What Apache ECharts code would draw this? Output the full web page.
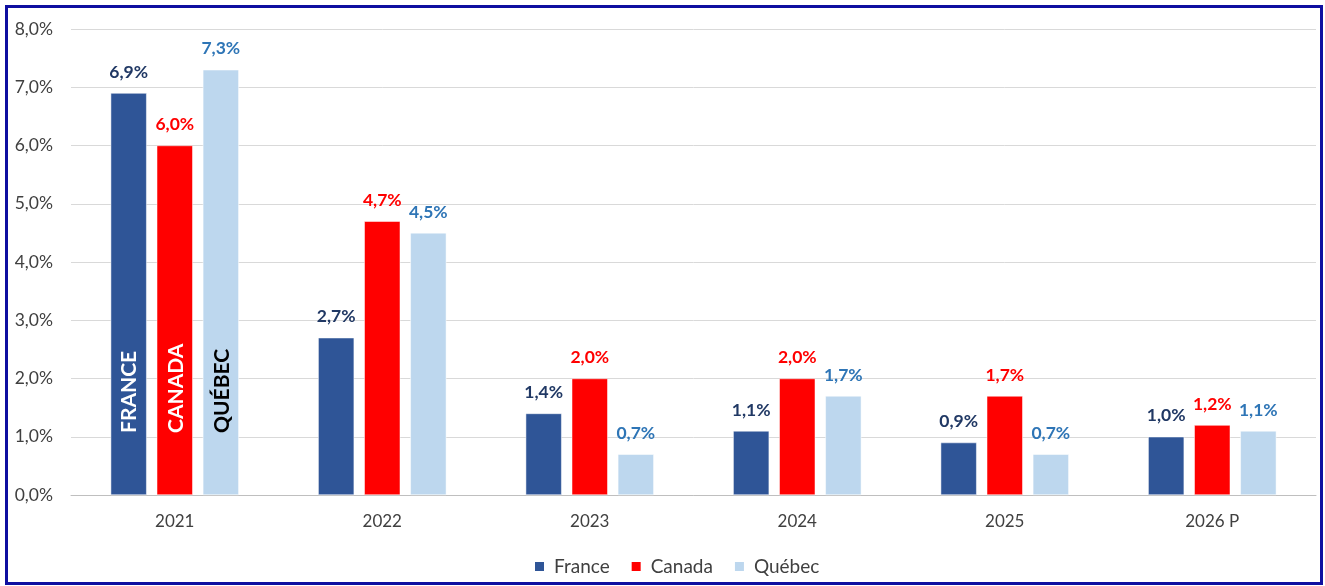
<!DOCTYPE html>
<html><head><meta charset="utf-8">
<script src="https://cdn.jsdelivr.net/npm/echarts@6/dist/echarts.min.js"></script>
<style>
html,body{margin:0;padding:0;background:#fff;}
#c{width:1325px;height:586px;position:relative;}
#frame{position:absolute;left:5px;top:5px;width:1312px;height:574px;border:3px solid #0F0FA0;pointer-events:none;}
</style></head>
<body>
<div id="c"></div>
<div id="frame"></div>
<script>
const categories = ['2021','2022','2023','2024','2025','2026 P'];
const france = [6.9, 2.7, 1.4, 1.1, 0.9, 1.0];
const canada = [6.0, 4.7, 2.0, 2.0, 1.7, 1.2];
const quebec = [7.3, 4.5, 0.7, 1.7, 0.7, 1.1];
const seriesNames = ['France','Canada','Québec'];
const insideNames = ['FRANCE','CANADA','QUÉBEC'];
const yTicks = [0,1,2,3,4,5,6,7,8];

const FONT = 'Lato, "Open Sans", sans-serif';
const fmt = v => v.toFixed(1).replace('.', ',') + '%';

function makeSeries(name, data, color, labelColor, inside, insideColor) {
  return {
    name: name, type: 'bar', data: data,
    barWidth: 36, barGap: '28%',
    itemStyle: { color: color, borderColor: '#fff', borderWidth: 0.5 },
    label: {
      show: true, position: 'top', distance: 12,
      fontFamily: FONT, fontWeight: 'bold', fontSize: 17.5, color: labelColor,
      formatter: p => fmt(p.value)
    },
    markPoint: {
      symbol: 'rect', symbolSize: 1,
      itemStyle: { color: 'rgba(0,0,0,0)' },
      data: [{ coord: [categories[0], 0], value: inside }],
      label: {
        show: true, position: 'inside', rotate: 90,
        align: 'left', verticalAlign: 'middle',
        offset: [62, 1],
        fontFamily: FONT, fontWeight: 'bold', fontSize: 21, color: insideColor,
        formatter: () => inside
      }
    }
  };
}

const chart = echarts.init(document.getElementById('c'), null, { renderer: 'canvas' });
chart.setOption({
  animation: false,
  textStyle: { fontFamily: FONT },
  grid: { left: 71, right: 9, top: 29, bottom: 91, containLabel: false },
  legend: {
    data: seriesNames, bottom: 5, left: 528,
    itemWidth: 11, itemHeight: 11, itemGap: 20,
    icon: 'rect',
    textStyle: { fontFamily: FONT, fontSize: 19, color: '#404040', padding: [0, 0, 0, 4] }
  },
  xAxis: {
    type: 'category', data: categories,
    axisLine: { lineStyle: { color: '#BFBFBF', width: 1 } },
    axisTick: { show: false },
    axisLabel: { fontFamily: FONT, fontSize: 17, color: '#404040', margin: 18 }
  },
  yAxis: {
    type: 'value', min: 0, max: 8, interval: 1,
    axisLine: { show: false }, axisTick: { show: false },
    splitLine: { lineStyle: { color: '#D9D9D9', width: 1 } },
    axisLabel: { fontFamily: FONT, fontSize: 17.5, color: '#404040', margin: 18,
      formatter: v => fmt(v) }
  },
  series: [
    makeSeries(seriesNames[0], france, '#2F5597', '#203864', insideNames[0], '#FFFFFF'),
    makeSeries(seriesNames[1], canada, '#FF0000', '#FF0000', insideNames[1], '#FFFFFF'),
    makeSeries(seriesNames[2], quebec, '#BDD7EE', '#2E75B6', insideNames[2], '#000000')
  ]
});
</script>
</body></html>
